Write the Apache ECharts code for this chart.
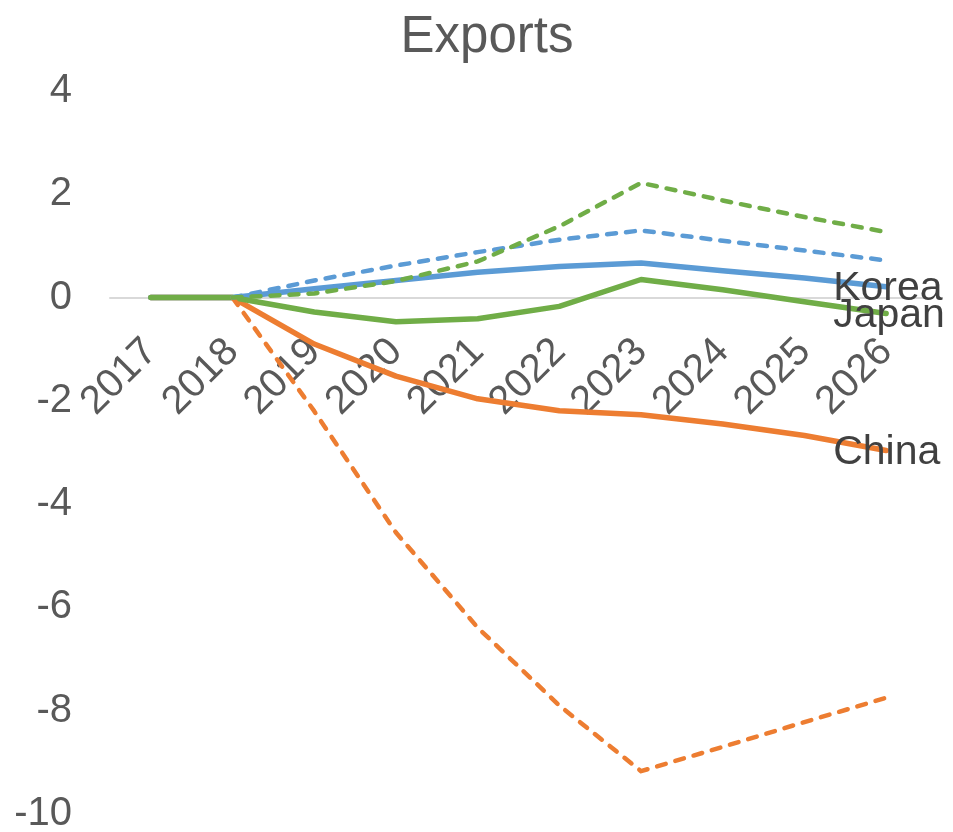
<!DOCTYPE html>
<html>
<head>
<meta charset="utf-8">
<script src="https://cdn.jsdelivr.net/npm/echarts@6/dist/echarts.min.js"></script>
<style>
  html, body { margin: 0; padding: 0; background: #fff; }
  #chart { width: 953px; height: 832px; }
</style>
</head>
<body>
<div id="chart"></div>
<script>
// Years on the category axis
const years = ['2017', '2018', '2019', '2020', '2021', '2022', '2023', '2024', '2025', '2026'];

// Solid lines: central path for each economy
const chinaMain = [0, 0, -0.9, -1.52, -1.96, -2.19, -2.27, -2.45, -2.67, -2.96];
const koreaMain = [0, 0, 0.17, 0.33, 0.49, 0.6, 0.67, 0.52, 0.38, 0.21];
const japanMain = [0, 0, -0.28, -0.47, -0.41, -0.17, 0.35, 0.15, -0.08, -0.31];

// Dashed lines: alternative path, starting from 2018
const chinaAlt = [null, 0, -2.2, -4.55, -6.39, -7.9, -9.17, -8.7, -8.22, -7.75];
const koreaAlt = [null, 0, 0.33, 0.62, 0.88, 1.12, 1.3, 1.1, 0.91, 0.72];
const japanAlt = [null, 0, 0.08, 0.32, 0.7, 1.38, 2.22, 1.88, 1.56, 1.27];

const FONT = '"Liberation Sans", Arial, sans-serif';
const COLORS = { china: '#ED7D31', korea: '#5B9BD5', japan: '#70AD47' };

function solid(name, data, color) {
  return {
    name, type: 'line', data,
    symbol: 'none', smooth: false, z: 2,
    lineStyle: { color, width: 5.5, cap: 'round', join: 'round' },
    endLabel: {
      show: true,
      formatter: name,
      offset: [-61, 2],
      fontFamily: FONT, fontSize: 41, color: '#404040'
    }
  };
}

function dashed(name, data, color) {
  return {
    name: name + ' (alt)', type: 'line', data,
    symbol: 'none', smooth: false, z: 3,
    lineStyle: { color, width: 4.5, type: [9, 10], cap: 'round', join: 'round' }
  };
}

const chart = echarts.init(document.getElementById('chart'), null, { renderer: 'canvas' });
chart.setOption({
  animation: false,
  backgroundColor: '#ffffff',
  title: {
    text: 'Exports',
    left: 482, top: 7, textAlign: 'center',
    textStyle: { fontFamily: FONT, fontSize: 51, fontWeight: 'normal', color: '#595959' }
  },
  grid: { left: 110, right: 26, top: 91, bottom: 18, containLabel: false, outerBoundsMode: 'none' },
  xAxis: {
    type: 'category',
    data: years,
    boundaryGap: true,
    axisLine: { onZero: false, lineStyle: { color: '#D9D9D9', width: 2 } },
    axisTick: { show: false },
    axisLabel: {
      interval: 0, rotate: 45, margin: 48,
      fontFamily: FONT, fontSize: 40, color: '#595959'
    },
    splitLine: { show: false }
  },
  yAxis: {
    type: 'value',
    min: -10, max: 4, interval: 2,
    axisLine: { show: false },
    axisTick: { show: false },
    splitLine: { show: false },
    axisLabel: { margin: 38, fontFamily: FONT, fontSize: 40, color: '#595959' }
  },
  series: [
    solid('China', chinaMain, COLORS.china),
    solid('Korea', koreaMain, COLORS.korea),
    solid('Japan', japanMain, COLORS.japan),
    dashed('China', chinaAlt, COLORS.china),
    dashed('Korea', koreaAlt, COLORS.korea),
    dashed('Japan', japanAlt, COLORS.japan)
  ]
});

// Lift the category axis (line and labels) up to the value-axis zero
const zeroY = chart.convertToPixel({ yAxisIndex: 0 }, 0);
const floorY = chart.convertToPixel({ yAxisIndex: 0 }, -10);
chart.setOption({ xAxis: { offset: -(floorY - zeroY) } });
</script>
</body>
</html>
